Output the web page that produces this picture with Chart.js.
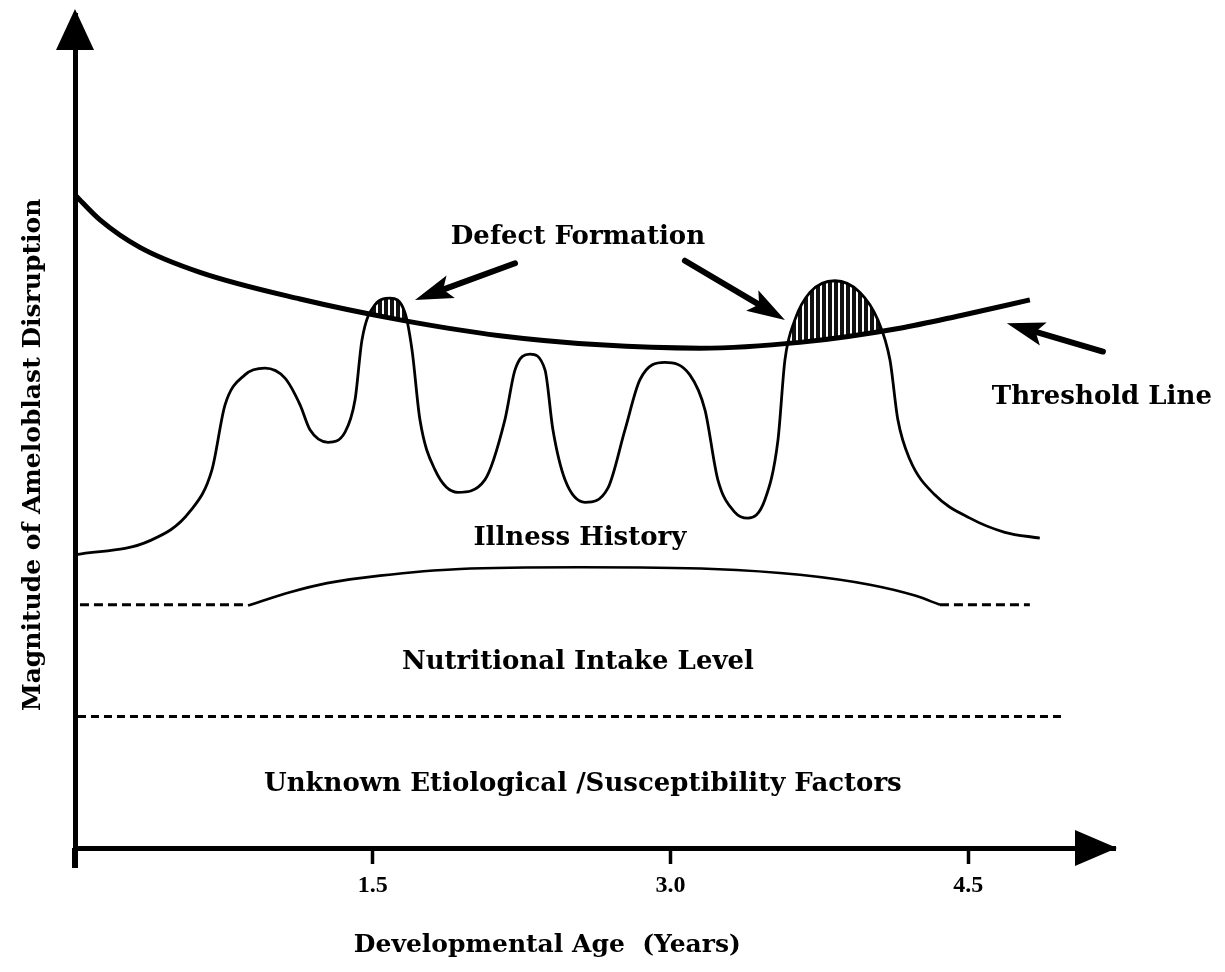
<!DOCTYPE html>
<html>
<head>
<meta charset="utf-8">
<title>Ameloblast disruption</title>
<script src="https://cdn.jsdelivr.net/npm/chart.js@4.4.1/dist/chart.umd.min.js"></script>
<style>
  body { margin: 0; background: #fff; }
  #wrap { width: 1225px; height: 972px; }
</style>
</head>
<body>
<div id="wrap"><canvas id="chart"></canvas></div>
<script>
// x = developmental age (years), y = magnitude (arbitrary 0-100)
const thresholdAge = [0, 0.126, 0.327, 0.63, 1.134, 1.637, 2.141, 2.645, 3.149, 3.652, 4.156, 4.458, 4.811];
const thresholdLevel = [78.4, 75.4, 72.1, 69.1, 65.9, 63.4, 61.5, 60.4, 60.0, 60.7, 62.4, 63.9, 65.8];

const illnessAge = [0, 0.378, 0.579, 0.690, 0.756, 0.856, 0.957, 1.058, 1.134, 1.184, 1.275, 1.360, 1.411, 1.446,
    1.511, 1.587, 1.662, 1.698, 1.738, 1.814, 1.929, 2.065, 2.166, 2.217, 2.292, 2.368, 2.408, 2.469, 2.570,
    2.685, 2.771, 2.846, 2.972, 3.098, 3.174, 3.239, 3.325, 3.390, 3.476, 3.542, 3.577, 3.627, 3.703, 3.829,
    3.955, 4.045, 4.106, 4.146, 4.207, 4.332, 4.509, 4.685, 4.861];
const illnessLevel = [35.2, 36.9, 40.4, 45.4, 53.2, 56.8, 57.6, 56.4, 53.2, 50.2, 48.7, 49.9, 53.8, 61.0,
    65.2, 66.0, 64.3, 59.8, 51.4, 45.4, 42.7, 44.2, 51.4, 57.4, 59.3, 57.4, 50.2, 44.2, 41.5,
    43.2, 50.2, 56.2, 58.3, 56.8, 52.6, 44.2, 40.3, 39.6, 41.8, 49.0, 58.6, 63.4, 66.7, 68.1,
    66.7, 63.4, 58.6, 51.4, 46.6, 42.4, 39.6, 37.9, 37.2];

const nutritionAge = [0.872, 1.083, 1.270, 1.537, 1.940, 2.544, 3.214, 3.652, 4.005, 4.232, 4.358];
const nutritionLevel = [29.1, 30.7, 31.8, 32.7, 33.5, 33.7, 33.5, 32.8, 31.6, 30.3, 29.2];
const nutritionBase = 29.2;
const nutritionLeft = [0.025, 0.872];
const nutritionRight = [4.358, 4.811];

const unknownLevel = 15.8;
const unknownRange = [0.015, 4.987];

const ageTicks = [1.5, 3.0, 4.5];

const notes = [
    { text: 'Defect Formation', x: 2.534, y: 73.3 },
    { text: 'Threshold Line', x: 5.174, y: 54.1 },
    { text: 'Illness History', x: 2.544, y: 37.2 },
    { text: 'Nutritional Intake Level', x: 2.534, y: 22.3 },
    { text: 'Unknown Etiological /Susceptibility Factors', x: 2.559, y: 7.6 }
];
const pointers = [
    { from: [2.217, 70.2], to: [1.713, 65.8] },
    { from: [3.073, 70.5], to: [3.577, 63.4] },
    { from: [5.179, 59.6], to: [4.695, 63.0] }
];

const FONT = '"DejaVu Serif", "Liberation Serif", serif';

function pts(xs, ys) {
    return xs.map((x, i) => ({ x: x, y: ys[i] }));
}
function flat(xs, level) {
    return xs.map(x => ({ x: x, y: level }));
}

// vertical hatching for the defect areas
function hatch() {
    const c = document.createElement('canvas');
    c.width = 6; c.height = 6;
    const g = c.getContext('2d');
    g.fillStyle = '#111';
    g.fillRect(0, 0, 4, 6);
    return g.createPattern(c, 'repeat');
}

function arrow(ctx, x1, y1, x2, y2) {
    const ang = Math.atan2(y2 - y1, x2 - x1);
    const head = 38, half = 12;
    const bx = x2 - head * Math.cos(ang), by = y2 - head * Math.sin(ang);
    ctx.lineWidth = 6;
    ctx.lineCap = 'round';
    ctx.beginPath();
    ctx.moveTo(x1, y1);
    ctx.lineTo(bx + 6 * Math.cos(ang), by + 6 * Math.sin(ang));
    ctx.stroke();
    ctx.beginPath();
    ctx.moveTo(x2, y2);
    ctx.lineTo(bx + half * Math.sin(ang), by - half * Math.cos(ang));
    ctx.lineTo(bx + 8 * Math.cos(ang), by + 8 * Math.sin(ang));
    ctx.lineTo(bx - half * Math.sin(ang), by + half * Math.cos(ang));
    ctx.closePath();
    ctx.fill();
}

const sketch = {
    id: 'sketch',
    afterDraw(chart) {
        const { ctx, chartArea: a, scales: { x, y } } = chart;
        ctx.save();
        ctx.fillStyle = '#000';
        ctx.strokeStyle = '#000';

        // axis arrowheads + little overhang of y axis
        ctx.beginPath();
        ctx.moveTo(a.left, a.top - 6);
        ctx.lineTo(a.left - 19, a.top + 35);
        ctx.lineTo(a.left + 19, a.top + 35);
        ctx.closePath();
        ctx.fill();
        ctx.beginPath();
        ctx.moveTo(a.right + 2, a.bottom);
        ctx.lineTo(a.right - 40, a.bottom - 18);
        ctx.lineTo(a.right - 40, a.bottom + 18);
        ctx.closePath();
        ctx.fill();
        ctx.fillRect(a.left - 3, a.bottom, 6, 20);

        pointers.forEach(p => {
            arrow(ctx, x.getPixelForValue(p.from[0]), y.getPixelForValue(p.from[1]),
                x.getPixelForValue(p.to[0]), y.getPixelForValue(p.to[1]));
        });

        ctx.textAlign = 'center';
        ctx.textBaseline = 'middle';
        ctx.font = 'bold 26px ' + FONT;
        notes.forEach(n => {
            ctx.fillText(n.text, x.getPixelForValue(n.x), y.getPixelForValue(n.y));
        });

        // axis titles
        ctx.font = 'bold 25px ' + FONT;
        ctx.fillText('Developmental Age  (Years)', x.getPixelForValue(2.38), a.bottom + 97);
        ctx.translate(a.left - 42, y.getPixelForValue(47.2));
        ctx.rotate(-Math.PI / 2);
        ctx.fillText('Magnitude of Ameloblast Disruption', 0, 0);
        ctx.restore();
    }
};

const lineBase = {
    borderColor: '#000',
    pointRadius: 0,
    fill: false,
    cubicInterpolationMode: 'monotone'
};

new Chart(document.getElementById('chart'), {
    type: 'line',
    data: {
        datasets: [
            Object.assign({}, lineBase, { label: 'Threshold Line', data: pts(thresholdAge, thresholdLevel), borderWidth: 5 }),
            Object.assign({}, lineBase, {
                label: 'Illness History', data: pts(illnessAge, illnessLevel), borderWidth: 2.8,
                fill: { target: 0, above: hatch(), below: 'rgba(0,0,0,0)' }
            }),
            Object.assign({}, lineBase, { label: 'Nutritional Intake Level', data: pts(nutritionAge, nutritionLevel), borderWidth: 2.6 }),
            Object.assign({}, lineBase, { label: 'nutrition base left', data: flat(nutritionLeft, nutritionBase), borderWidth: 3, borderDash: [9, 5] }),
            Object.assign({}, lineBase, { label: 'nutrition base right', data: flat(nutritionRight, nutritionBase), borderWidth: 3, borderDash: [9, 5] }),
            Object.assign({}, lineBase, { label: 'Unknown factors', data: flat(unknownRange, unknownLevel), borderWidth: 3, borderDash: [8, 5] })
        ]
    },
    options: {
        responsive: true,
        maintainAspectRatio: false,
        animation: false,
        layout: { padding: { top: 15, right: 110, left: 0, bottom: 0 } },
        plugins: {
            legend: { display: false },
            tooltip: { enabled: false },
            filler: { drawTime: 'beforeDatasetsDraw' }
        },
        scales: {
            x: {
                type: 'linear',
                min: 0,
                max: 5.24,
                afterFit: s => { s.height = 124; },
                afterBuildTicks: s => { s.ticks = ageTicks.map(v => ({ value: v })); },
                border: { display: true, color: '#000', width: 5 },
                grid: { display: true, drawOnChartArea: false, drawTicks: true, tickLength: 16, tickWidth: 3.5, tickColor: '#000' },
                ticks: {
                    color: '#000',
                    padding: 7,
                    maxRotation: 0,
                    font: { family: '"Liberation Serif", serif', size: 24, weight: 'bold' },
                    callback: v => v.toFixed(1)
                }
            },
            y: {
                type: 'linear',
                min: 0,
                max: 100,
                afterFit: s => { s.width = 75; },
                border: { display: true, color: '#000', width: 5 },
                grid: { display: false },
                ticks: { display: false }
            }
        }
    },
    plugins: [sketch]
});
</script>
</body>
</html>
